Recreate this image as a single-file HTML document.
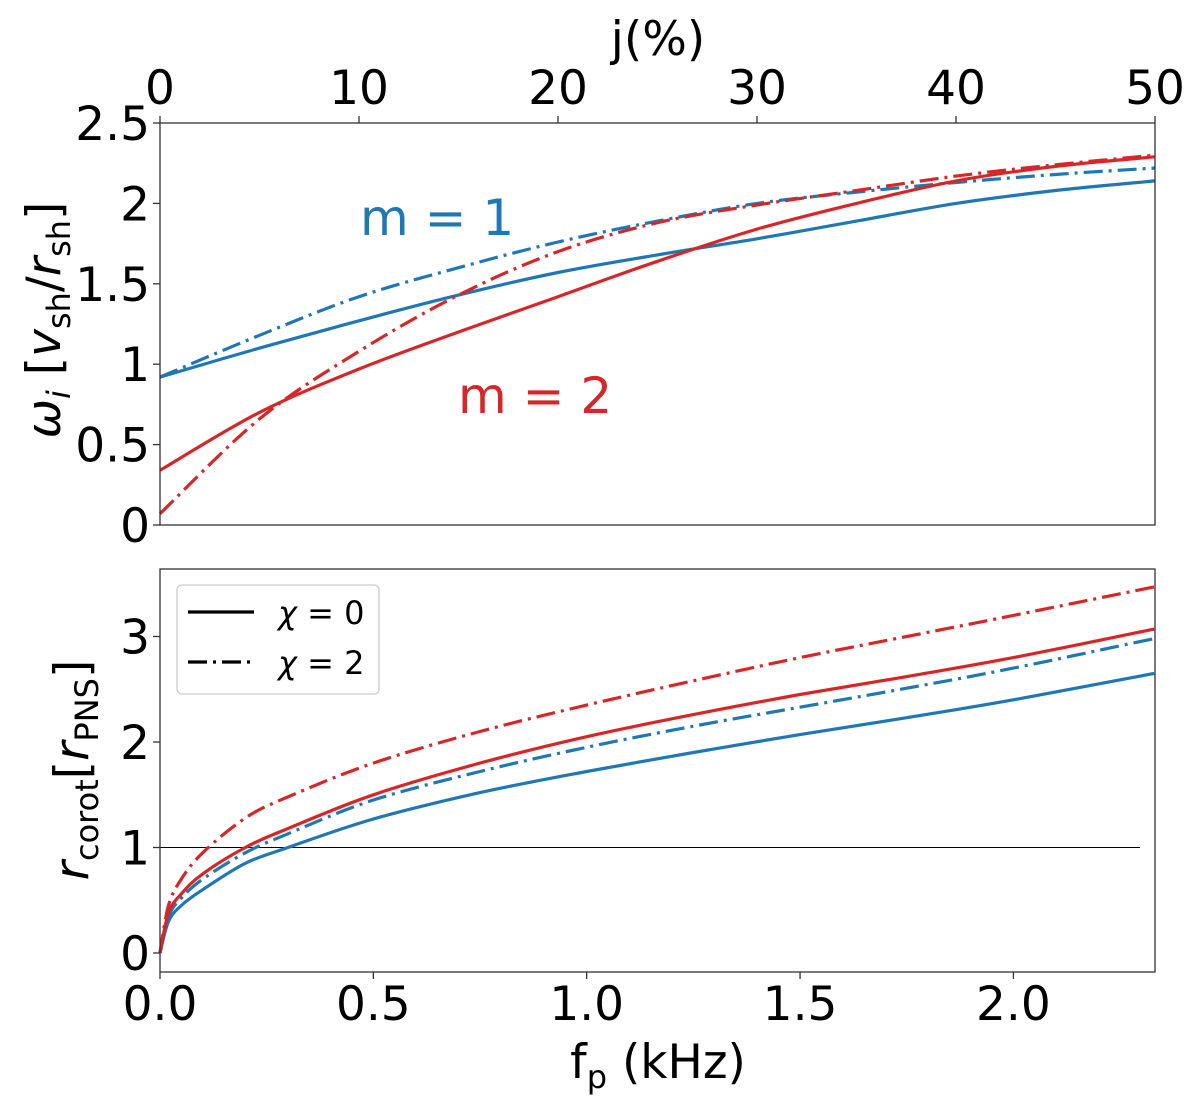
<!DOCTYPE html>
<html><head><meta charset="utf-8"><style>
html,body{margin:0;padding:0;background:#fff;}
svg{display:block;font-family:"DejaVu Sans","Liberation Sans",sans-serif;}
</style></head><body>
<svg id="c" width="1200" height="1107">
<g id="g"></g>
</svg>
<script>
const topJ=[0,5,10,15,20,25,30,35,40,45,50];
const topBlueSolid=[0.92,1.10,1.27,1.43,1.57,1.68,1.78,1.89,2.00,2.08,2.14];
const topBlueDash=[0.92,1.18,1.42,1.60,1.76,1.89,2.00,2.07,2.13,2.18,2.22];
const topRedSolid=[0.34,0.70,0.97,1.20,1.42,1.64,1.84,2.00,2.14,2.23,2.29];
const topRedDash=[0.07,0.66,1.08,1.43,1.70,1.88,1.99,2.08,2.17,2.24,2.30];
const botF=[0,0.02,0.05,0.1,0.2,0.3,0.5,0.75,1.0,1.25,1.5,1.75,2.0,2.33];
const botBlueSolid=[0,0.30,0.45,0.60,0.85,1.00,1.27,1.52,1.72,1.90,2.07,2.23,2.40,2.65];
const botBlueDash=[0,0.35,0.52,0.70,0.95,1.13,1.45,1.72,1.95,2.15,2.33,2.51,2.70,2.98];
const botRedSolid=[0,0.38,0.56,0.75,1.00,1.18,1.50,1.80,2.05,2.26,2.45,2.62,2.80,3.07];
const botRedDash=[0,0.45,0.70,0.95,1.28,1.48,1.80,2.10,2.35,2.58,2.80,3.00,3.20,3.47];
const topXTicks=[0,10,20,30,40,50];
const topYTicks=[0,0.5,1,1.5,2,2.5];
const topYLabels=["0","0.5","1","1.5","2","2.5"];
const botXTicks=[0,0.5,1.0,1.5,2.0];
const botXLabels=["0.0","0.5","1.0","1.5","2.0"];
const botYTicks=[0,1,2,3];

const NS="http://www.w3.org/2000/svg";
const g=document.getElementById('g');
function el(t,a,txt){const e=document.createElementNS(NS,t);for(const k in a)e.setAttribute(k,a[k]);if(txt!==undefined)e.textContent=txt;g.appendChild(e);return e;}
const L=160,R=1155;
const xJ=j=>L+(R-L)*j/50;
const yT=v=>525-v*160.8;
const xF=f=>L+f*426.7;
const yB=v=>953-v*105.5;
const BLUE="#1f77b4",RED="#d62728";
function line(xs,ys,fx,fy,col,dash,name){
  const P=xs.map((x,i)=>[fx(x),fy(ys[i])]);
  let d="M"+P[0][0].toFixed(1)+","+P[0][1].toFixed(1);
  for(let i=0;i<P.length-1;i++){
    const p0=P[Math.max(0,i-1)],p1=P[i],p2=P[i+1],p3=P[Math.min(P.length-1,i+2)];
    const c1=[p1[0]+(p2[0]-p0[0])/6,p1[1]+(p2[1]-p0[1])/6];
    const c2=[p2[0]-(p3[0]-p1[0])/6,p2[1]-(p3[1]-p1[1])/6];
    d+="C"+c1[0].toFixed(1)+","+c1[1].toFixed(1)+" "+c2[0].toFixed(1)+","+c2[1].toFixed(1)+" "+p2[0].toFixed(1)+","+p2[1].toFixed(1);
  }
  const p=el('path',{d:d,fill:'none',stroke:col,'stroke-width':3.2,'stroke-linejoin':'round'});
  if(dash)p.setAttribute('stroke-dasharray','19,6,3,6');
  
  
}
const FS=47;
// top panel
line(topJ,topBlueSolid,xJ,yT,BLUE,false,'top-m1-chi0');
line(topJ,topBlueDash,xJ,yT,BLUE,true,'top-m1-chi2');
line(topJ,topRedSolid,xJ,yT,RED,false,'top-m2-chi0');
line(topJ,topRedDash,xJ,yT,RED,true,'top-m2-chi2');
let f=el('rect',{x:L,y:yT(2.5),width:R-L,height:yT(0)-yT(2.5),fill:'none',stroke:'#333','stroke-width':1.3});

topXTicks.forEach(t=>{el('line',{x1:xJ(t),x2:xJ(t),y1:yT(2.5),y2:yT(2.5)-7,stroke:'#333','stroke-width':1.3});
 const e=el('text',{x:xJ(t),y:104,'font-size':FS,'text-anchor':'middle'},String(t));
 });
topYTicks.forEach((t,i)=>{el('line',{x1:L,x2:L-7,y1:yT(t),y2:yT(t),stroke:'#333','stroke-width':1.3});
 const e=el('text',{x:150,y:yT(t)+17,'font-size':FS,'text-anchor':'end'},topYLabels[i]);
 });
let t1=el('text',{x:658,y:55,'font-size':FS,'text-anchor':'middle'},'j(%)');
let t2=el('text',{x:0,y:0,'font-size':FS,'text-anchor':'middle',transform:'translate(60,320) rotate(-90)'});
t2.innerHTML='<tspan font-style="italic">ω</tspan><tspan font-style="italic" font-size="32" dy="10">i</tspan><tspan dy="-10"> [</tspan><tspan font-style="italic">v</tspan><tspan font-size="32" dy="10">sh</tspan><tspan dy="-10">/</tspan><tspan font-style="italic">r</tspan><tspan font-size="32" dy="10">sh</tspan><tspan dy="-10">]</tspan>';

let a1=el('text',{x:360,y:235,'font-size':50,fill:BLUE},'m = 1');
let a2=el('text',{x:458,y:413,'font-size':50,fill:RED},'m = 2');
// bottom panel
let h=el('line',{x1:L,x2:1140,y1:yB(1),y2:yB(1),stroke:'#000','stroke-width':1});
line(botF,botBlueSolid,xF,yB,BLUE,false,'bottom-m1-chi0');
line(botF,botBlueDash,xF,yB,BLUE,true,'bottom-m1-chi2');
line(botF,botRedSolid,xF,yB,RED,false,'bottom-m2-chi0');
line(botF,botRedDash,xF,yB,RED,true,'bottom-m2-chi2');
f=el('rect',{x:L,y:569,width:R-L,height:403,fill:'none',stroke:'#333','stroke-width':1.3});

botXTicks.forEach((t,i)=>{el('line',{x1:xF(t),x2:xF(t),y1:972,y2:979,stroke:'#333','stroke-width':1.3});
 const e=el('text',{x:xF(t),y:1020,'font-size':FS,'text-anchor':'middle'},botXLabels[i]);
 });
botYTicks.forEach(t=>{el('line',{x1:L,x2:L-7,y1:yB(t),y2:yB(t),stroke:'#333','stroke-width':1.3});
 const e=el('text',{x:150,y:yB(t)+17,'font-size':FS,'text-anchor':'end'},String(t));
 });
let t3=el('text',{x:658,y:1078,'font-size':FS,'text-anchor':'middle'});
t3.innerHTML='f<tspan font-size="32" dy="10">p</tspan><tspan dy="-10"> (kHz)</tspan>';

let t4=el('text',{x:0,y:0,'font-size':FS,'text-anchor':'middle',transform:'translate(88,770) rotate(-90)'});
t4.innerHTML='<tspan font-style="italic">r</tspan><tspan font-size="32" dy="10">corot</tspan><tspan dy="-10">[</tspan><tspan font-style="italic">r</tspan><tspan font-size="32" dy="10">PNS</tspan><tspan dy="-10">]</tspan>';

// legend
let lg=el('rect',{x:177,y:585,width:202,height:109,rx:5,fill:'#fff','fill-opacity':0.8,stroke:'#ccc','stroke-width':1.3});

el('line',{x1:188,x2:254,y1:612,y2:612,stroke:'#000','stroke-width':3.2});
el('line',{x1:188,x2:254,y1:662,y2:662,stroke:'#000','stroke-width':3.2,'stroke-dasharray':'19,6,3,6'});
let l1=el('text',{x:278,y:624,'font-size':32});l1.innerHTML='<tspan font-style="italic">χ</tspan> = 0';
let l2=el('text',{x:278,y:674,'font-size':32});l2.innerHTML='<tspan font-style="italic">χ</tspan> = 2';
</script>
</body></html>
